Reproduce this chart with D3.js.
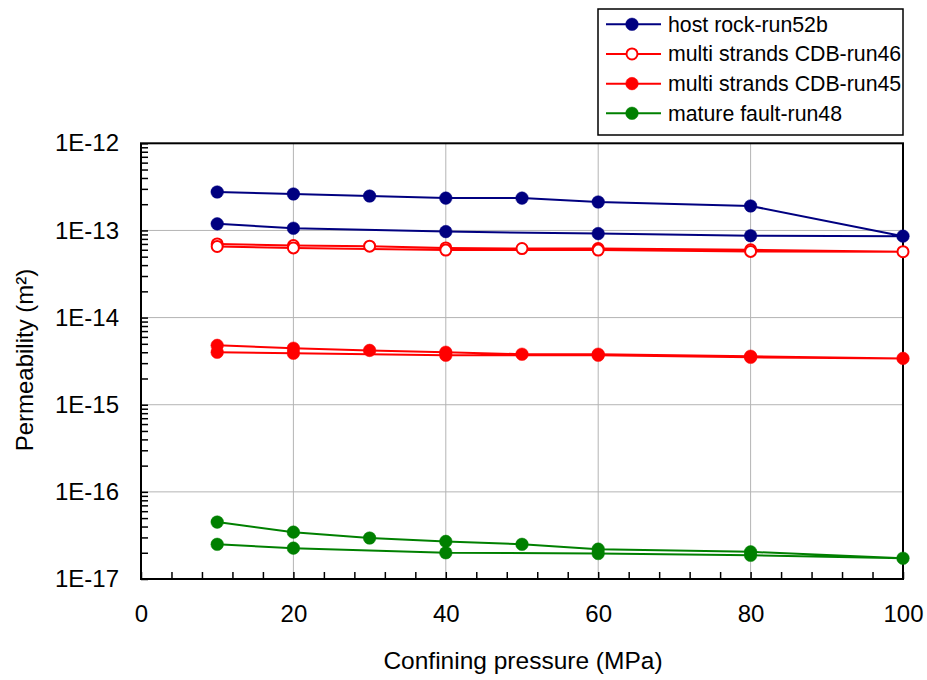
<!DOCTYPE html>
<html>
<head>
<meta charset="utf-8">
<script src="https://cdn.jsdelivr.net/npm/d3@7"></script>
<style>
  html, body { margin: 0; padding: 0; background: #fff; }
  svg { display: block; font-family: "Liberation Sans", Arial, sans-serif; }
</style>
</head>
<body>
<svg id="chart" width="927" height="680"></svg>
<script>
// ---- data ----
const pressureLoading = [10, 20, 30, 40, 50, 60, 80, 100];
const pressureUnloading = [80, 60, 40, 20, 10];
const seriesNames = ["host rock-run52b", "multi strands CDB-run46", "multi strands CDB-run45", "mature fault-run48"];
const hostRockLoading = [2.76e-13, 2.62e-13, 2.48e-13, 2.35e-13, 2.35e-13, 2.12e-13, 1.91e-13, 8.6e-14];
const hostRockUnloading = [8.7e-14, 9.2e-14, 9.7e-14, 1.06e-13, 1.19e-13];
const run46Loading = [7.0e-14, 6.7e-14, 6.6e-14, 6.3e-14, 6.2e-14, 6.2e-14, 6.0e-14, 5.7e-14];
const run46Unloading = [5.75e-14, 5.95e-14, 5.95e-14, 6.3e-14, 6.55e-14];
const run45Loading = [4.8e-15, 4.45e-15, 4.2e-15, 4.0e-15, 3.8e-15, 3.8e-15, 3.6e-15, 3.4e-15];
const run45Unloading = [3.5e-15, 3.7e-15, 3.7e-15, 3.9e-15, 4.0e-15];
const run48Loading = [4.5e-17, 3.45e-17, 2.95e-17, 2.7e-17, 2.5e-17, 2.2e-17, 2.05e-17, 1.73e-17];
const run48Unloading = [1.87e-17, 1.96e-17, 2.0e-17, 2.26e-17, 2.5e-17];
const xTickLabels = [0, 20, 40, 60, 80, 100];
const yTickLabels = ["1E-12", "1E-13", "1E-14", "1E-15", "1E-16", "1E-17"];
const yDecades = [1e-12, 1e-13, 1e-14, 1e-15, 1e-16, 1e-17];

// ---- styles ----
const colors = ["#000080", "#ff0000", "#ff0000", "#008000"];
const hollow = [false, true, false, false];

const series = [
  [hostRockLoading, hostRockUnloading],
  [run46Loading, run46Unloading],
  [run45Loading, run45Unloading],
  [run48Loading, run48Unloading]
].map((s, i) => ({
  name: seriesNames[i],
  color: colors[i],
  hollow: hollow[i],
  points: pressureLoading.map((p, j) => ({ x: p, y: s[0][j] }))
    .concat(pressureUnloading.map((p, j) => ({ x: p, y: s[1][j] })))
}));

const svg = d3.select("#chart");
const L = 141, R = 903, T = 143.3, B = 579;
const x = d3.scaleLinear().domain([0, 100]).range([L, R]);
const y = d3.scaleLog().domain([1e-17, 1e-12]).range([B, T]);

// gridlines
const grid = svg.append("g").attr("stroke", "#b4b4b4").attr("stroke-width", 1);
grid.selectAll(".gx").data([20, 40, 60, 80]).join("line")
  .attr("x1", d => x(d)).attr("x2", d => x(d)).attr("y1", T).attr("y2", B);
grid.selectAll(".gy").data(yDecades.slice(1, 5)).join("line")
  .attr("x1", L).attr("x2", R).attr("y1", d => y(d)).attr("y2", d => y(d));

// y axis ticks (inward)
const yTicks = [];
for (let e = -17; e < -12; e++) for (let m = 1; m < 10; m++) yTicks.push(m * Math.pow(10, e));
yTicks.push(1e-12);
const yAxis = d3.axisLeft(y).tickValues(yTicks).tickSize(-7).tickPadding(22)
  .tickFormat(d => {
    const i = yDecades.findIndex(v => Math.abs(v - d) / v < 1e-6);
    return i >= 0 ? yTickLabels[i] : "";
  });
const gy = svg.append("g").attr("transform", `translate(${L},0)`).call(yAxis);
gy.select(".domain").remove();
gy.selectAll(".tick line").attr("stroke", "#000").attr("stroke-width", 1.5);
gy.selectAll(".tick text").attr("font-size", 24).attr("fill", "#000")
  .attr("font-family", "Liberation Sans, Arial, sans-serif");

// x axis ticks (inward)
const xTicks = d3.range(0, 101, 4);
const xAxis = d3.axisBottom(x).tickValues(xTicks).tickSize(-7).tickPadding(26)
  .tickFormat(d => xTickLabels.includes(d) ? String(d) : "");
const gx = svg.append("g").attr("transform", `translate(0,${B})`).call(xAxis);
gx.select(".domain").remove();
gx.selectAll(".tick line").attr("stroke", "#000").attr("stroke-width", 1.5);
gx.selectAll(".tick text").attr("font-size", 24).attr("fill", "#000")
  .attr("font-family", "Liberation Sans, Arial, sans-serif");

// frame
svg.append("rect").attr("x", L).attr("y", T).attr("width", R - L).attr("height", B - T)
  .attr("fill", "none").attr("stroke", "#000").attr("stroke-width", 2);

// series
const line = d3.line().x(d => x(d.x)).y(d => y(d.y));
series.forEach(s => {
  svg.append("path").datum(s.points)
    .attr("d", line).attr("fill", "none")
    .attr("stroke", s.color).attr("stroke-width", 2);
  svg.append("g").selectAll("circle").data(s.points).join("circle")
    .attr("cx", d => x(d.x)).attr("cy", d => y(d.y)).attr("r", s.hollow ? 5.5 : 6.3)
    .attr("fill", s.hollow ? "#fff" : s.color)
    .attr("stroke", s.color).attr("stroke-width", s.hollow ? 2 : 0.5);
});

// axis titles
svg.append("text").attr("x", (L + R) / 2 + 1).attr("y", 669).attr("text-anchor", "middle")
  .attr("font-size", 24.5).text("Confining pressure (MPa)");
svg.append("text").attr("transform", "translate(33,360) rotate(-90)").attr("text-anchor", "middle")
  .attr("font-size", 24).text("Permeability (m²)");

// legend
const lg = svg.append("g");
lg.append("rect").attr("x", 598).attr("y", 9).attr("width", 305).attr("height", 126)
  .attr("fill", "#fff").attr("stroke", "#000").attr("stroke-width", 1.5);
const rowY = d3.scaleLinear().domain([0, 3]).range([24.3, 113.3]);
series.forEach((s, i) => {
  const yy = rowY(i);
  lg.append("line").attr("x1", 606).attr("x2", 661).attr("y1", yy).attr("y2", yy)
    .attr("stroke", s.color).attr("stroke-width", 2);
  lg.append("circle").attr("cx", 632).attr("cy", yy).attr("r", s.hollow ? 5.5 : 6.3)
    .attr("fill", s.hollow ? "#fff" : s.color).attr("stroke", s.color)
    .attr("stroke-width", s.hollow ? 2 : 0.5);
  lg.append("text").attr("x", 668).attr("y", yy).attr("dy", "0.35em")
    .attr("font-size", 21.3).text(s.name);
});
</script>
</body>
</html>
